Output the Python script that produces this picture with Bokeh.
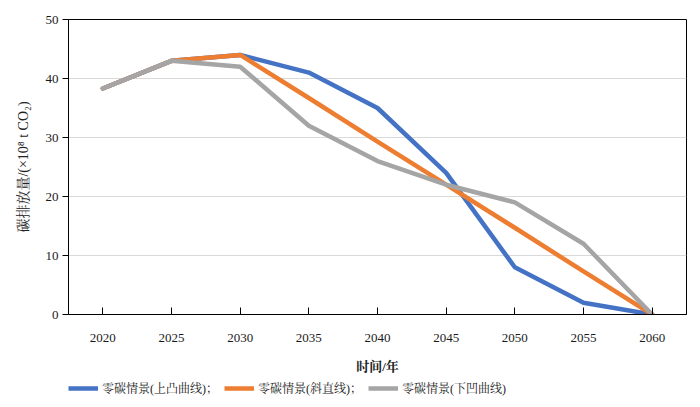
from bokeh.plotting import figure
from bokeh.models import Legend, LegendItem, FixedTicker, Range1d, Label
from bokeh.layouts import column
from bokeh.embed import file_html
from bokeh.resources import INLINE

years = [2020, 2025, 2030, 2035, 2040, 2045, 2050, 2055, 2060]
convex = [38.3, 43, 44, 41, 35, 24, 8, 2, 0]
linear = [38.3, 43, 44, 36.7, 29.3, 22, 14.7, 7.3, 0]
concave = [38.3, 43, 42, 32, 26, 22, 19, 12, 0]
names = ["零碳情景(上凸曲线)；", "零碳情景(斜直线)；", "零碳情景(下凹曲线)"]
colors = ["#4472C4", "#ED7D31", "#A5A5A5"]
y_ticks = [0, 10, 20, 30, 40, 50]
x_title = "时间/年"
y_title = "碳排放量/(×10⁸ t CO₂)"

FONT = "Liberation Serif, Noto Serif CJK SC, Noto Sans CJK SC"
W = 692
H1 = 354
H2 = 53
BL, BR = 68, 6

p = figure(width=W, height=H1, output_backend="svg", toolbar_location=None,
           x_range=Range1d(2017.5, 2062.5), y_range=Range1d(0, 50),
           min_border_left=BL, min_border_right=BR, min_border_top=19, min_border_bottom=40)

series = [convex, linear, concave]
for ys, c in zip(series, colors):
    p.line(years, ys, line_color=c, line_width=4.5, line_join="round", line_cap="round")

p.xaxis.ticker = FixedTicker(ticks=years)
p.yaxis.ticker = FixedTicker(ticks=y_ticks)
p.xgrid.visible = False
p.ygrid.grid_line_color = "#d9d9d9"
p.ygrid.grid_line_width = 1

for ax in (p.xaxis, p.yaxis):
    ax.axis_line_color = "black"
    ax.axis_line_width = 1
    ax.major_tick_line_color = "black"
    ax.minor_tick_line_color = None
    ax.major_label_text_font = FONT
    ax.major_label_text_font_size = "13px"
    ax.major_label_text_color = "#1a1a1a"
    ax.axis_label_text_font = FONT
    ax.axis_label_text_color = "#222222"

p.xaxis.major_tick_in = 7
p.xaxis.major_tick_out = 0
p.xaxis.major_label_standoff = 19

p.yaxis.major_tick_in = 0
p.yaxis.major_tick_out = 6
p.yaxis.major_label_standoff = 4
p.yaxis.axis_label = y_title
p.yaxis.axis_label_standoff = 12
p.yaxis.axis_label_text_font_size = "14px"
p.yaxis.axis_label_text_font_style = "normal"

p.outline_line_color = "black"
p.outline_line_width = 1
p.outline_line_alpha = 1

# lower strip: x-axis title and legend (frame aligned with the main plot's frame)
p2 = figure(width=W, height=H2, output_backend="svg", toolbar_location=None,
            x_range=Range1d(BL, W - BR), y_range=Range1d(0, H2),
            min_border_left=BL, min_border_right=BR, min_border_top=0, min_border_bottom=0)
p2.axis.visible = False
p2.grid.visible = False
p2.outline_line_color = None

p2.add_layout(Label(x=(BL + W - BR) / 2, y=H2 - 12, text=x_title, text_align="center",
                    text_baseline="middle", text_font=FONT, text_font_size="13px",
                    text_font_style="bold", text_color="#222222"))

# same series drawn in the strip (outside its visible range) only to key the legend
keyed = [p2.line(years, ys, line_color=c, line_width=4.5) for ys, c in zip(series, colors)]
legend = Legend(items=[LegendItem(label=n, renderers=[r]) for n, r in zip(names, keyed)],
                orientation="horizontal", location=(0, 9),
                label_text_font=FONT, label_text_font_size="12px", label_text_color="#222222",
                glyph_width=30, spacing=6, padding=0, margin=0, border_line_color=None,
                background_fill_alpha=0, label_standoff=4)
p2.add_layout(legend, "center")

layout = column(p, p2, spacing=0)
open("out.html", "w").write(file_html(layout, INLINE))
